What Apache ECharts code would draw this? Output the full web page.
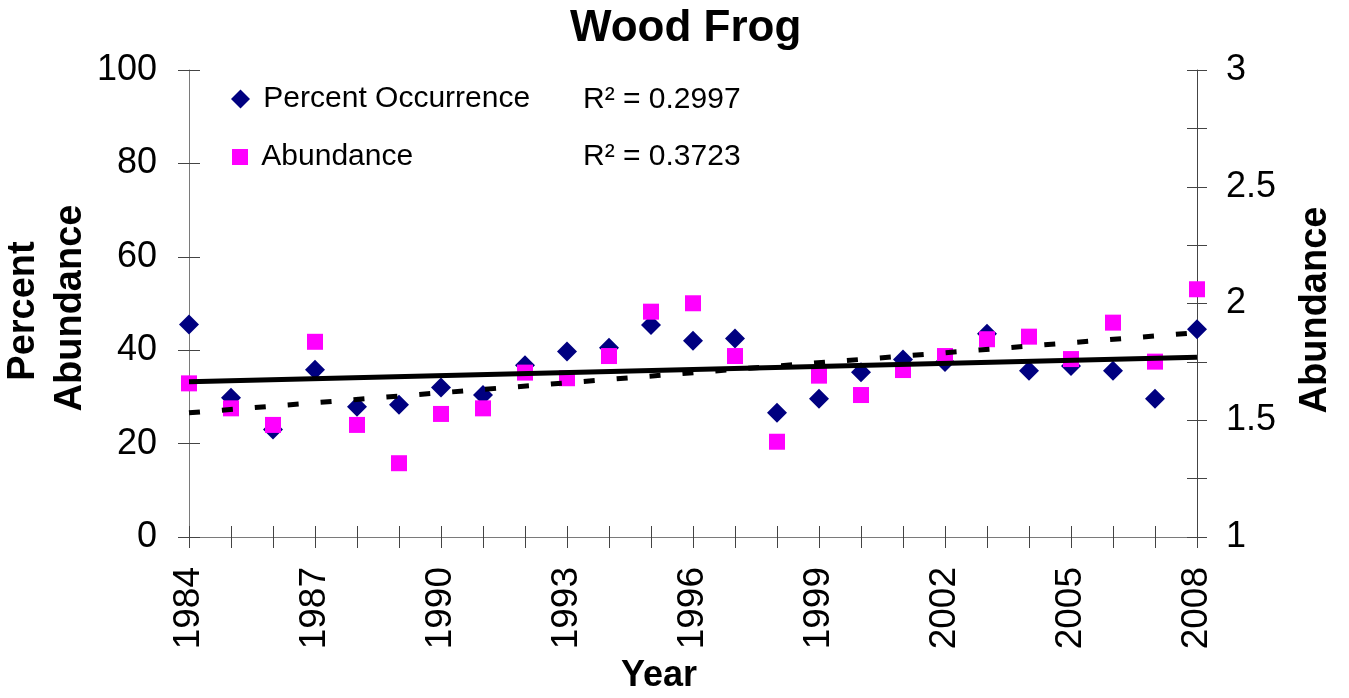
<!DOCTYPE html>
<html><head><meta charset="utf-8">
<script src="https://cdn.jsdelivr.net/npm/echarts@6.0.0/dist/echarts.min.js"></script>
<style>html,body{margin:0;padding:0;background:#fff}#c{width:1349px;height:698px}</style>
</head><body><div id="c"></div>
<script>
// ---- data ----
const years = [1984,1985,1986,1987,1988,1989,1990,1991,1992,1993,1994,1995,1996,1997,1998,1999,2000,2001,2002,2003,2004,2005,2006,2007,2008];
const percentOccurrence = [45.5,29.8,23.0,35.8,27.9,28.3,32.0,30.4,36.8,39.7,40.5,45.4,42.0,42.5,26.6,29.6,35.3,38.0,37.5,43.5,35.6,36.6,35.6,29.6,44.5];
const abundance = [1.658,1.551,1.480,1.836,1.480,1.316,1.527,1.551,1.704,1.680,1.775,1.965,2.001,1.775,1.408,1.691,1.608,1.715,1.775,1.847,1.858,1.762,1.918,1.751,2.061];
const trendYears = [1984, 2008];
const occurrenceTrend = [33.25, 38.5];
const abundanceTrend = [1.532, 1.875];
const xTickLabels = [1984,1987,1990,1993,1996,1999,2002,2005,2008];
const leftTickLabels = [0,20,40,60,80,100];
const rightTickLabels = [1,1.5,2,2.5,3];
const r2Texts = ['R\u00B2 = 0.2997', 'R\u00B2 = 0.3723'];

const FONT = "'Liberation Sans', Arial, sans-serif";
const NARROW = "'Liberation Sans Narrow', 'Liberation Sans', Arial, sans-serif";
const AXIS_LINE = '#7a7a7a';
const TICK = '#444';

const xMin = years[0], xMax = years[years.length-1];
const near = (arr, v) => arr.some(a => Math.abs(a - v) < 1e-6);

const chart = echarts.init(document.getElementById('c'), null, {renderer:'canvas'});
const option = {
  animation: false,
  backgroundColor: '#fff',
  title: {
    text: 'Wood Frog', left: 570, top: 7, padding: 0,
    textStyle: {fontSize: 44, fontWeight: 'bold', fontFamily: FONT, color: '#000'}
  },
  legend: [
    {data: [{name: 'Percent Occurrence', icon: 'diamond'}], left: 231, top: 84, padding: 0,
     itemWidth: 19, itemHeight: 19, selectedMode: false, formatter: n => ' ' + n,
     itemStyle: {opacity: 1},
     textStyle: {fontSize: 30, lineHeight: 30, fontFamily: FONT, color: '#000'}},
    {data: [{name: 'Abundance', icon: 'rect'}], left: 232, top: 142, padding: 0,
     itemWidth: 16, itemHeight: 16, selectedMode: false, formatter: n => ' ' + n,
     itemStyle: {opacity: 1},
     textStyle: {fontSize: 30, lineHeight: 30, fontFamily: FONT, color: '#000'}}
  ],
  grid: {left: 189, right: 152, top: 70, bottom: 161, containLabel: false, outerBoundsMode: 'none'},
  xAxis: [
    {type: 'value', min: xMin, max: xMax, interval: 1, position: 'bottom',
     axisLine: {show: true, onZero: false, lineStyle: {color: AXIS_LINE, width: 1}},
     axisTick: {show: true, inside: false, length: 11, lineStyle: {color: TICK}},
     splitLine: {show: false},
     axisLabel: {rotate: 90, margin: 30, fontSize: 37, fontFamily: FONT, color: '#000',
       formatter: v => near(xTickLabels, v) ? String(v) : ''}},
    {type: 'value', min: xMin, max: xMax, interval: 1, position: 'bottom',
     axisLine: {show: false, onZero: false},
     axisTick: {show: true, inside: true, length: 11, lineStyle: {color: TICK}},
     splitLine: {show: false}, axisLabel: {show: false}}
  ],
  yAxis: [
    {type: 'value', min: 0, max: 100, interval: 20, position: 'left',
     axisLine: {show: true, onZero: false, lineStyle: {color: AXIS_LINE, width: 1}},
     axisTick: {show: true, inside: false, length: 11, lineStyle: {color: TICK}},
     splitLine: {show: false},
     axisLabel: {margin: 32, fontSize: 36, fontFamily: FONT, color: '#000',
       formatter: v => near(leftTickLabels, v) ? String(v) : ''}},
    {type: 'value', min: 1, max: 3, interval: 0.25, position: 'right',
     axisLine: {show: true, onZero: false, lineStyle: {color: TICK, width: 1}},
     axisTick: {show: true, inside: false, length: 10, lineStyle: {color: TICK}},
     splitLine: {show: false},
     axisLabel: {margin: 29, fontSize: 36, fontFamily: FONT, color: '#000',
       formatter: v => near(rightTickLabels, v) ? String(v) : ''}},
    {type: 'value', min: 0, max: 100, interval: 20, position: 'left',
     axisLine: {show: false, onZero: false},
     axisTick: {show: true, inside: true, length: 11, lineStyle: {color: TICK}},
     splitLine: {show: false}, axisLabel: {show: false}},
    {type: 'value', min: 1, max: 3, interval: 0.25, position: 'right',
     axisLine: {show: false, onZero: false},
     axisTick: {show: true, inside: true, length: 10, lineStyle: {color: TICK}},
     splitLine: {show: false}, axisLabel: {show: false}}
  ],
  graphic: [
    {type: 'text', x: 659, y: 676, style: {text: 'Year', fontSize: 36, fontWeight: 'bold', fontFamily: NARROW, fill: '#000', align: 'center', verticalAlign: 'middle'}},
    {type: 'text', x: 24, y: 311, rotation: Math.PI/2, style: {text: 'Percent', fontSize: 38, fontWeight: 'bold', fontFamily: FONT, fill: '#000', align: 'center', verticalAlign: 'middle'}},
    {type: 'text', x: 71, y: 308, rotation: Math.PI/2, style: {text: 'Abundance', fontSize: 38, fontWeight: 'bold', fontFamily: FONT, fill: '#000', align: 'center', verticalAlign: 'middle'}},
    {type: 'text', x: 1316, y: 310, rotation: Math.PI/2, style: {text: 'Abundance', fontSize: 38, fontWeight: 'bold', fontFamily: FONT, fill: '#000', align: 'center', verticalAlign: 'middle'}},
    {type: 'text', x: 583, y: 100, style: {text: r2Texts[0], fontSize: 30, fontFamily: FONT, fill: '#000', align: 'left', verticalAlign: 'middle'}},
    {type: 'text', x: 583, y: 157, style: {text: r2Texts[1], fontSize: 30, fontFamily: FONT, fill: '#000', align: 'left', verticalAlign: 'middle'}}
  ],
  series: [
    {name: 'Percent Occurrence', type: 'scatter', xAxisIndex: 0, yAxisIndex: 0,
     symbol: 'diamond', symbolSize: 20, clip: false,
     itemStyle: {color: '#000080', opacity: 1},
     data: years.map((y, i) => [y, percentOccurrence[i]])},
    {name: 'Abundance', type: 'scatter', xAxisIndex: 0, yAxisIndex: 1,
     symbol: 'rect', symbolSize: 16, clip: false,
     itemStyle: {color: '#FF00FF', opacity: 1},
     data: years.map((y, i) => [y, abundance[i]])},
    {name: 'Occurrence trend', type: 'line', xAxisIndex: 0, yAxisIndex: 0,
     showSymbol: false, symbol: 'none', clip: false, z: 5,
     lineStyle: {color: '#000', width: 5, type: 'solid'},
     data: trendYears.map((y, i) => [y, occurrenceTrend[i]])},
    {name: 'Abundance trend', type: 'line', xAxisIndex: 0, yAxisIndex: 1,
     showSymbol: false, symbol: 'none', clip: false, z: 5,
     lineStyle: {color: '#000', width: 5, type: [11, 22]},
     data: trendYears.map((y, i) => [y, abundanceTrend[i]])}
  ]
};
chart.setOption(option);
</script>
</body></html>
